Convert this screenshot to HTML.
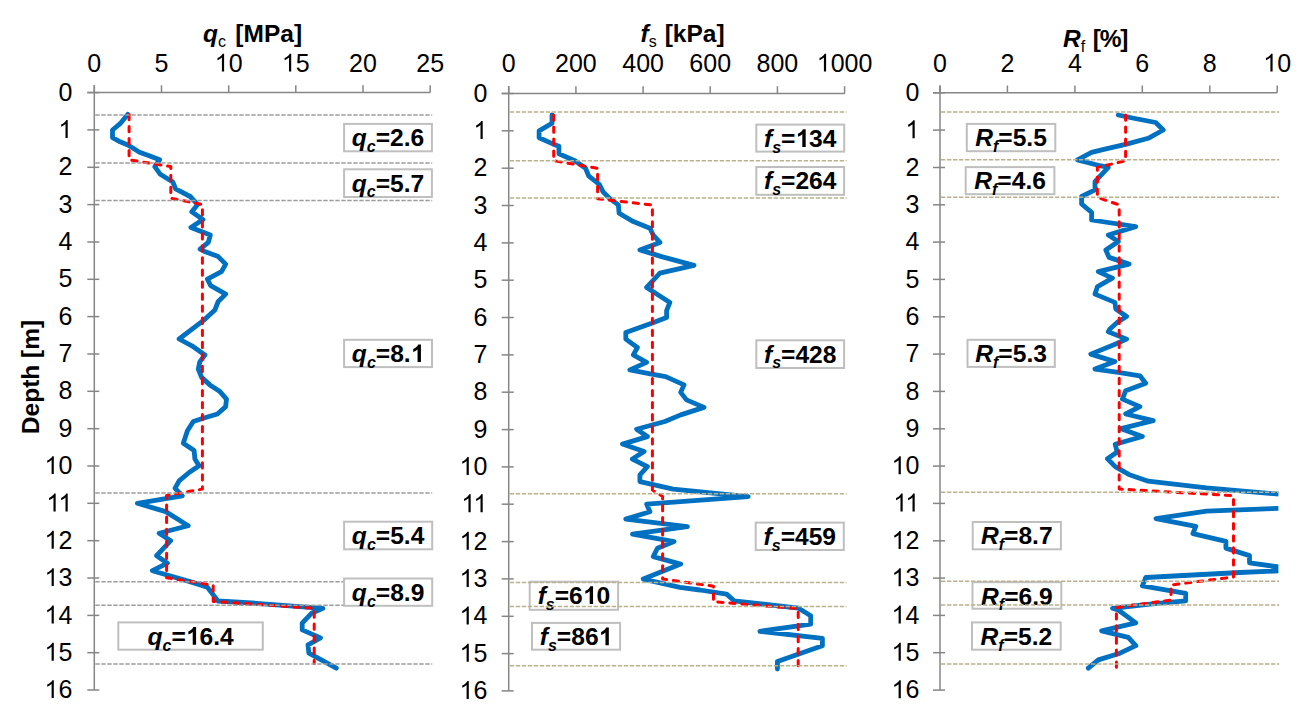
<!DOCTYPE html>
<html><head><meta charset="utf-8"><style>
html,body{margin:0;padding:0;background:#fff;}
body{width:1309px;height:721px;overflow:hidden;}
svg{display:block;}
</style></head><body>
<svg width="1309" height="721" viewBox="0 0 1309 721" font-family='"Liberation Sans", sans-serif'>
<defs><clipPath id="c3"><rect x="930" y="80" width="348.4" height="620"/></clipPath></defs>
<rect width="1309" height="721" fill="#fff"/>
<text x="203" y="41.7" font-size="24.5" font-weight="bold"><tspan font-style="italic">q</tspan><tspan font-size="16" font-weight="normal" dy="5">c</tspan><tspan dy="-5" dx="2.6"> [MPa]</tspan></text>
<text x="640.5" y="41.6" font-size="24.5" font-weight="bold"><tspan font-style="italic">f</tspan><tspan font-size="16" font-weight="normal" dy="5">s</tspan><tspan dy="-5" dx="1.2"> [kPa]</tspan></text>
<text x="1063" y="47" font-size="24.5" font-weight="bold"><tspan font-style="italic">R</tspan><tspan font-size="16" font-weight="normal" dy="5">f</tspan><tspan dy="-5" dx="2" letter-spacing="-1.2"> [%]</tspan></text>
<text transform="translate(39,377) rotate(-90)" text-anchor="middle" font-size="24.5" font-weight="bold">Depth [m]</text>
<line x1="87.3" y1="92.6" x2="430.2" y2="92.6" stroke="#868686" stroke-width="1.5"/>
<line x1="94.3" y1="85.3" x2="94.3" y2="690.0" stroke="#868686" stroke-width="1.5"/>
<line x1="94.3" y1="85.3" x2="94.3" y2="92.6" stroke="#868686" stroke-width="1.5"/>
<text x="94.3" y="71.6" text-anchor="middle" font-size="25">0</text>
<line x1="161.5" y1="85.3" x2="161.5" y2="92.6" stroke="#868686" stroke-width="1.5"/>
<text x="161.5" y="71.6" text-anchor="middle" font-size="25">5</text>
<line x1="228.7" y1="85.3" x2="228.7" y2="92.6" stroke="#868686" stroke-width="1.5"/>
<text x="228.7" y="71.6" text-anchor="middle" font-size="25"> 0</text>
<line x1="295.8" y1="85.3" x2="295.8" y2="92.6" stroke="#868686" stroke-width="1.5"/>
<text x="295.8" y="71.6" text-anchor="middle" font-size="25"> 5</text>
<line x1="363.0" y1="85.3" x2="363.0" y2="92.6" stroke="#868686" stroke-width="1.5"/>
<text x="363.0" y="71.6" text-anchor="middle" font-size="25">20</text>
<line x1="430.2" y1="85.3" x2="430.2" y2="92.6" stroke="#868686" stroke-width="1.5"/>
<text x="430.2" y="71.6" text-anchor="middle" font-size="25">25</text>
<line x1="87.3" y1="92.6" x2="99.3" y2="92.6" stroke="#868686" stroke-width="1.5"/>
<text x="72.3" y="100.7" text-anchor="end" font-size="25">0</text>
<line x1="87.3" y1="129.9" x2="99.3" y2="129.9" stroke="#868686" stroke-width="1.5"/>
<text x="72.3" y="138.0" text-anchor="end" font-size="25"> </text>
<line x1="87.3" y1="167.3" x2="99.3" y2="167.3" stroke="#868686" stroke-width="1.5"/>
<text x="72.3" y="175.4" text-anchor="end" font-size="25">2</text>
<line x1="87.3" y1="204.6" x2="99.3" y2="204.6" stroke="#868686" stroke-width="1.5"/>
<text x="72.3" y="212.7" text-anchor="end" font-size="25">3</text>
<line x1="87.3" y1="242.0" x2="99.3" y2="242.0" stroke="#868686" stroke-width="1.5"/>
<text x="72.3" y="250.1" text-anchor="end" font-size="25">4</text>
<line x1="87.3" y1="279.3" x2="99.3" y2="279.3" stroke="#868686" stroke-width="1.5"/>
<text x="72.3" y="287.4" text-anchor="end" font-size="25">5</text>
<line x1="87.3" y1="316.6" x2="99.3" y2="316.6" stroke="#868686" stroke-width="1.5"/>
<text x="72.3" y="324.7" text-anchor="end" font-size="25">6</text>
<line x1="87.3" y1="354.0" x2="99.3" y2="354.0" stroke="#868686" stroke-width="1.5"/>
<text x="72.3" y="362.1" text-anchor="end" font-size="25">7</text>
<line x1="87.3" y1="391.3" x2="99.3" y2="391.3" stroke="#868686" stroke-width="1.5"/>
<text x="72.3" y="399.4" text-anchor="end" font-size="25">8</text>
<line x1="87.3" y1="428.7" x2="99.3" y2="428.7" stroke="#868686" stroke-width="1.5"/>
<text x="72.3" y="436.8" text-anchor="end" font-size="25">9</text>
<line x1="87.3" y1="466.0" x2="99.3" y2="466.0" stroke="#868686" stroke-width="1.5"/>
<text x="72.3" y="474.1" text-anchor="end" font-size="25"> 0</text>
<line x1="87.3" y1="503.3" x2="99.3" y2="503.3" stroke="#868686" stroke-width="1.5"/>
<text x="72.3" y="511.4" text-anchor="end" font-size="25">  </text>
<line x1="87.3" y1="540.7" x2="99.3" y2="540.7" stroke="#868686" stroke-width="1.5"/>
<text x="72.3" y="548.8" text-anchor="end" font-size="25"> 2</text>
<line x1="87.3" y1="578.0" x2="99.3" y2="578.0" stroke="#868686" stroke-width="1.5"/>
<text x="72.3" y="586.1" text-anchor="end" font-size="25"> 3</text>
<line x1="87.3" y1="615.4" x2="99.3" y2="615.4" stroke="#868686" stroke-width="1.5"/>
<text x="72.3" y="623.5" text-anchor="end" font-size="25"> 4</text>
<line x1="87.3" y1="652.7" x2="99.3" y2="652.7" stroke="#868686" stroke-width="1.5"/>
<text x="72.3" y="660.8" text-anchor="end" font-size="25"> 5</text>
<line x1="87.3" y1="690.0" x2="99.3" y2="690.0" stroke="#868686" stroke-width="1.5"/>
<text x="72.3" y="698.1" text-anchor="end" font-size="25"> 6</text>
<line x1="501.7" y1="93.5" x2="844.6" y2="93.5" stroke="#868686" stroke-width="1.5"/>
<line x1="508.7" y1="86.2" x2="508.7" y2="690.9" stroke="#868686" stroke-width="1.5"/>
<line x1="508.7" y1="86.2" x2="508.7" y2="93.5" stroke="#868686" stroke-width="1.5"/>
<text x="508.7" y="71.6" text-anchor="middle" font-size="25">0</text>
<line x1="575.9" y1="86.2" x2="575.9" y2="93.5" stroke="#868686" stroke-width="1.5"/>
<text x="575.9" y="71.6" text-anchor="middle" font-size="25">200</text>
<line x1="643.1" y1="86.2" x2="643.1" y2="93.5" stroke="#868686" stroke-width="1.5"/>
<text x="643.1" y="71.6" text-anchor="middle" font-size="25">400</text>
<line x1="710.2" y1="86.2" x2="710.2" y2="93.5" stroke="#868686" stroke-width="1.5"/>
<text x="710.2" y="71.6" text-anchor="middle" font-size="25">600</text>
<line x1="777.4" y1="86.2" x2="777.4" y2="93.5" stroke="#868686" stroke-width="1.5"/>
<text x="777.4" y="71.6" text-anchor="middle" font-size="25">800</text>
<line x1="844.6" y1="86.2" x2="844.6" y2="93.5" stroke="#868686" stroke-width="1.5"/>
<text x="844.6" y="71.6" text-anchor="middle" font-size="25"> 000</text>
<line x1="501.7" y1="93.5" x2="513.7" y2="93.5" stroke="#868686" stroke-width="1.5"/>
<text x="487.3" y="101.6" text-anchor="end" font-size="25">0</text>
<line x1="501.7" y1="130.8" x2="513.7" y2="130.8" stroke="#868686" stroke-width="1.5"/>
<text x="487.3" y="138.9" text-anchor="end" font-size="25"> </text>
<line x1="501.7" y1="168.2" x2="513.7" y2="168.2" stroke="#868686" stroke-width="1.5"/>
<text x="487.3" y="176.3" text-anchor="end" font-size="25">2</text>
<line x1="501.7" y1="205.5" x2="513.7" y2="205.5" stroke="#868686" stroke-width="1.5"/>
<text x="487.3" y="213.6" text-anchor="end" font-size="25">3</text>
<line x1="501.7" y1="242.9" x2="513.7" y2="242.9" stroke="#868686" stroke-width="1.5"/>
<text x="487.3" y="251.0" text-anchor="end" font-size="25">4</text>
<line x1="501.7" y1="280.2" x2="513.7" y2="280.2" stroke="#868686" stroke-width="1.5"/>
<text x="487.3" y="288.3" text-anchor="end" font-size="25">5</text>
<line x1="501.7" y1="317.5" x2="513.7" y2="317.5" stroke="#868686" stroke-width="1.5"/>
<text x="487.3" y="325.6" text-anchor="end" font-size="25">6</text>
<line x1="501.7" y1="354.9" x2="513.7" y2="354.9" stroke="#868686" stroke-width="1.5"/>
<text x="487.3" y="363.0" text-anchor="end" font-size="25">7</text>
<line x1="501.7" y1="392.2" x2="513.7" y2="392.2" stroke="#868686" stroke-width="1.5"/>
<text x="487.3" y="400.3" text-anchor="end" font-size="25">8</text>
<line x1="501.7" y1="429.6" x2="513.7" y2="429.6" stroke="#868686" stroke-width="1.5"/>
<text x="487.3" y="437.7" text-anchor="end" font-size="25">9</text>
<line x1="501.7" y1="466.9" x2="513.7" y2="466.9" stroke="#868686" stroke-width="1.5"/>
<text x="487.3" y="475.0" text-anchor="end" font-size="25"> 0</text>
<line x1="501.7" y1="504.2" x2="513.7" y2="504.2" stroke="#868686" stroke-width="1.5"/>
<text x="487.3" y="512.3" text-anchor="end" font-size="25">  </text>
<line x1="501.7" y1="541.6" x2="513.7" y2="541.6" stroke="#868686" stroke-width="1.5"/>
<text x="487.3" y="549.7" text-anchor="end" font-size="25"> 2</text>
<line x1="501.7" y1="578.9" x2="513.7" y2="578.9" stroke="#868686" stroke-width="1.5"/>
<text x="487.3" y="587.0" text-anchor="end" font-size="25"> 3</text>
<line x1="501.7" y1="616.3" x2="513.7" y2="616.3" stroke="#868686" stroke-width="1.5"/>
<text x="487.3" y="624.4" text-anchor="end" font-size="25"> 4</text>
<line x1="501.7" y1="653.6" x2="513.7" y2="653.6" stroke="#868686" stroke-width="1.5"/>
<text x="487.3" y="661.7" text-anchor="end" font-size="25"> 5</text>
<line x1="501.7" y1="690.9" x2="513.7" y2="690.9" stroke="#868686" stroke-width="1.5"/>
<text x="487.3" y="699.0" text-anchor="end" font-size="25"> 6</text>
<line x1="933.0" y1="92.8" x2="1277.2" y2="92.8" stroke="#868686" stroke-width="1.5"/>
<line x1="940.0" y1="85.5" x2="940.0" y2="690.1" stroke="#868686" stroke-width="1.5"/>
<line x1="940.0" y1="85.5" x2="940.0" y2="92.8" stroke="#868686" stroke-width="1.5"/>
<text x="940.0" y="71.6" text-anchor="middle" font-size="25">0</text>
<line x1="1007.4" y1="85.5" x2="1007.4" y2="92.8" stroke="#868686" stroke-width="1.5"/>
<text x="1007.4" y="71.6" text-anchor="middle" font-size="25">2</text>
<line x1="1074.9" y1="85.5" x2="1074.9" y2="92.8" stroke="#868686" stroke-width="1.5"/>
<text x="1074.9" y="71.6" text-anchor="middle" font-size="25">4</text>
<line x1="1142.3" y1="85.5" x2="1142.3" y2="92.8" stroke="#868686" stroke-width="1.5"/>
<text x="1142.3" y="71.6" text-anchor="middle" font-size="25">6</text>
<line x1="1209.8" y1="85.5" x2="1209.8" y2="92.8" stroke="#868686" stroke-width="1.5"/>
<text x="1209.8" y="71.6" text-anchor="middle" font-size="25">8</text>
<line x1="1277.2" y1="85.5" x2="1277.2" y2="92.8" stroke="#868686" stroke-width="1.5"/>
<text x="1277.2" y="71.6" text-anchor="middle" font-size="25"> 0</text>
<line x1="933.0" y1="92.8" x2="945.0" y2="92.8" stroke="#868686" stroke-width="1.5"/>
<text x="919.3" y="100.9" text-anchor="end" font-size="25">0</text>
<line x1="933.0" y1="130.1" x2="945.0" y2="130.1" stroke="#868686" stroke-width="1.5"/>
<text x="919.3" y="138.2" text-anchor="end" font-size="25"> </text>
<line x1="933.0" y1="167.5" x2="945.0" y2="167.5" stroke="#868686" stroke-width="1.5"/>
<text x="919.3" y="175.6" text-anchor="end" font-size="25">2</text>
<line x1="933.0" y1="204.8" x2="945.0" y2="204.8" stroke="#868686" stroke-width="1.5"/>
<text x="919.3" y="212.9" text-anchor="end" font-size="25">3</text>
<line x1="933.0" y1="242.1" x2="945.0" y2="242.1" stroke="#868686" stroke-width="1.5"/>
<text x="919.3" y="250.2" text-anchor="end" font-size="25">4</text>
<line x1="933.0" y1="279.4" x2="945.0" y2="279.4" stroke="#868686" stroke-width="1.5"/>
<text x="919.3" y="287.6" text-anchor="end" font-size="25">5</text>
<line x1="933.0" y1="316.8" x2="945.0" y2="316.8" stroke="#868686" stroke-width="1.5"/>
<text x="919.3" y="324.9" text-anchor="end" font-size="25">6</text>
<line x1="933.0" y1="354.1" x2="945.0" y2="354.1" stroke="#868686" stroke-width="1.5"/>
<text x="919.3" y="362.2" text-anchor="end" font-size="25">7</text>
<line x1="933.0" y1="391.4" x2="945.0" y2="391.4" stroke="#868686" stroke-width="1.5"/>
<text x="919.3" y="399.5" text-anchor="end" font-size="25">8</text>
<line x1="933.0" y1="428.8" x2="945.0" y2="428.8" stroke="#868686" stroke-width="1.5"/>
<text x="919.3" y="436.9" text-anchor="end" font-size="25">9</text>
<line x1="933.0" y1="466.1" x2="945.0" y2="466.1" stroke="#868686" stroke-width="1.5"/>
<text x="919.3" y="474.2" text-anchor="end" font-size="25"> 0</text>
<line x1="933.0" y1="503.4" x2="945.0" y2="503.4" stroke="#868686" stroke-width="1.5"/>
<text x="919.3" y="511.5" text-anchor="end" font-size="25">  </text>
<line x1="933.0" y1="540.8" x2="945.0" y2="540.8" stroke="#868686" stroke-width="1.5"/>
<text x="919.3" y="548.9" text-anchor="end" font-size="25"> 2</text>
<line x1="933.0" y1="578.1" x2="945.0" y2="578.1" stroke="#868686" stroke-width="1.5"/>
<text x="919.3" y="586.2" text-anchor="end" font-size="25"> 3</text>
<line x1="933.0" y1="615.4" x2="945.0" y2="615.4" stroke="#868686" stroke-width="1.5"/>
<text x="919.3" y="623.5" text-anchor="end" font-size="25"> 4</text>
<line x1="933.0" y1="652.7" x2="945.0" y2="652.7" stroke="#868686" stroke-width="1.5"/>
<text x="919.3" y="660.8" text-anchor="end" font-size="25"> 5</text>
<line x1="933.0" y1="690.1" x2="945.0" y2="690.1" stroke="#868686" stroke-width="1.5"/>
<text x="919.3" y="698.2" text-anchor="end" font-size="25"> 6</text>
<polyline points="127.7,114.4 120.1,123.7 112.5,130.0 112.5,137.6 120.1,141.8 128.4,145.2 139.5,152.2 148.5,155.6 159.6,159.8 154.8,166.7 160.3,174.3 172.8,182.0 175.6,188.9 190.2,196.5 197.7,204.6 191.8,211.8 203.0,219.6 190.9,227.4 210.3,235.1 208.3,242.4 200.1,249.2 204.0,251.2 218.2,256.6 225.7,264.1 221.5,271.6 207.4,279.1 210.7,285.7 225.7,294.1 218.2,301.5 214.9,309.9 203.2,320.7 179.1,339.0 193.3,346.7 204.9,355.0 199.9,361.6 198.3,369.1 201.6,377.4 209.9,384.9 219.9,391.6 226.5,399.1 225.7,406.6 217.4,414.0 203.2,418.2 193.3,421.5 187.4,430.7 183.3,443.2 194.1,450.6 194.9,459.0 199.1,465.8 189.1,472.5 179.1,480.8 175.0,488.3 178.3,491.6 182.3,495.8 137.4,503.3 165.7,511.6 188.2,525.7 159.1,533.2 170.7,540.7 156.6,555.7 167.4,563.2 152.4,570.7 189.9,581.6 207.4,587.3 218.0,601.0 256.5,603.3 323.0,608.3 311.4,613.3 302.2,623.2 302.2,629.9 320.5,637.9 308.0,644.9 308.9,653.2 336.3,668.2" fill="none" stroke="#0070c0" stroke-width="4.8" stroke-linejoin="round" stroke-linecap="round"/>
<polyline points="129.1,114.4 129.1,159.8 170.8,166.5 170.8,198.2 202.4,204.6 202.4,489.1 166.6,495.5 166.6,577.8 213.2,585.2 213.2,601.4 314.2,608.3 314.2,663.5" fill="none" stroke="#ff0000" stroke-width="3" stroke-linejoin="round" stroke-linecap="round" stroke-dasharray="5.3 6.75"/>
<polyline points="552.0,114.9 552.0,123.3 539.1,130.9 539.1,137.8 552.8,143.9 558.9,146.2 558.9,153.8 574.9,160.7 585.6,168.3 588.6,175.9 599.3,184.3 603.1,191.9 610.0,198.8 618.4,204.9 619.1,213.3 633.3,221.6 649.9,228.3 653.2,235.0 659.9,242.4 639.9,249.9 661.6,256.6 694.0,265.4 659.9,273.2 646.6,287.4 669.9,302.4 666.6,310.7 666.6,317.5 651.6,323.3 625.8,332.5 625.8,339.1 637.4,347.5 633.3,354.9 646.6,362.4 629.9,369.9 651.6,374.1 665.7,376.6 684.0,384.9 680.7,392.4 686.5,399.9 704.0,407.4 680.7,414.9 664.9,421.5 636.6,429.2 647.4,436.6 622.5,444.1 644.1,451.6 632.4,459.1 647.4,466.6 639.9,474.9 639.9,481.6 673.2,489.1 748.2,496.6 646.6,504.1 649.9,511.7 625.8,519.1 687.4,526.6 632.5,534.1 674.1,541.6 657.4,548.3 653.3,556.6 680.7,564.1 643.3,579.1 679.9,587.4 700.0,590.0 726.6,594.1 734.1,600.8 798.6,608.2 810.7,615.8 810.7,624.1 759.9,631.3 822.4,638.3 822.4,645.8 777.4,661.6 777.4,669.1" fill="none" stroke="#0070c0" stroke-width="4.8" stroke-linejoin="round" stroke-linecap="round"/>
<polyline points="553.7,114.9 553.7,160.7 597.6,168.3 597.6,198.8 652.4,205.0 652.4,489.9 662.6,496.6 662.6,579.0 713.5,586.2 713.5,601.6 798.2,608.6 798.2,669.1" fill="none" stroke="#ff0000" stroke-width="3" stroke-linejoin="round" stroke-linecap="round" stroke-dasharray="5.3 6.75"/>
<polyline points="1118.3,115.0 1129.9,117.5 1155.7,122.5 1163.2,130.0 1148.2,138.3 1126.6,144.1 1104.9,149.1 1091.6,152.4 1077.5,159.9 1100.0,165.7 1108.3,167.4 1095.0,181.6 1095.0,189.9 1081.6,196.5 1081.6,204.0 1091.6,212.3 1091.6,220.0 1135.7,226.6 1108.3,235.0 1118.3,241.6 1105.8,250.0 1109.1,257.4 1129.1,264.1 1098.3,271.6 1112.4,278.2 1097.5,286.6 1095.0,294.1 1114.9,302.4 1115.8,309.0 1126.6,316.5 1117.4,322.3 1109.9,329.0 1108.3,331.7 1126.6,339.1 1113.3,345.0 1090.8,354.1 1114.9,361.6 1095.0,369.1 1118.3,372.4 1139.9,375.8 1145.7,383.2 1125.7,390.7 1122.4,399.1 1139.9,406.6 1125.7,414.0 1153.2,420.7 1121.1,428.7 1142.4,436.5 1115.2,444.3 1117.2,452.0 1107.5,458.8 1115.2,466.6 1128.8,474.4 1148.2,481.2 1206.5,487.9 1300.0,496.0 1300.0,507.5 1206.5,511.2 1156.0,518.6 1195.8,526.4 1192.9,533.6 1225.9,541.3 1225.9,548.1 1249.5,555.6 1249.5,562.8 1300.0,570.0 1240.0,572.5 1145.8,577.5 1142.4,585.8 1185.7,593.3 1185.7,600.8 1149.9,604.1 1112.5,608.3 1118.3,610.0 1135.8,622.9 1101.6,630.8 1128.3,637.4 1135.8,645.7 1120.0,653.2 1098.3,659.9 1088.3,668.2" fill="none" stroke="#0070c0" stroke-width="4.8" stroke-linejoin="round" stroke-linecap="round" clip-path="url(#c3)"/>
<polyline points="1125.6,115.0 1125.6,160.8 1097.4,167.4 1097.4,197.4 1119.2,204.9 1119.2,489.0 1233.5,495.7 1233.5,577.0 1171.0,585.0 1171.0,600.0 1116.4,607.5 1116.4,668.2" fill="none" stroke="#ff0000" stroke-width="3" stroke-linejoin="round" stroke-linecap="round" stroke-dasharray="5.3 6.75"/>
<line x1="95.3" y1="115.0" x2="432.2" y2="115.0" stroke="#9d9d9d" stroke-width="1.5" stroke-dasharray="4.4 1.6"/>
<line x1="95.3" y1="163.0" x2="432.2" y2="163.0" stroke="#9d9d9d" stroke-width="1.5" stroke-dasharray="4.4 1.6"/>
<line x1="95.3" y1="200.4" x2="432.2" y2="200.4" stroke="#9d9d9d" stroke-width="1.5" stroke-dasharray="4.4 1.6"/>
<line x1="95.3" y1="492.9" x2="432.2" y2="492.9" stroke="#9d9d9d" stroke-width="1.5" stroke-dasharray="4.4 1.6"/>
<line x1="95.3" y1="581.8" x2="432.2" y2="581.8" stroke="#9d9d9d" stroke-width="1.5" stroke-dasharray="4.4 1.6"/>
<line x1="95.3" y1="605.2" x2="432.2" y2="605.2" stroke="#9d9d9d" stroke-width="1.5" stroke-dasharray="4.4 1.6"/>
<line x1="95.3" y1="664.0" x2="432.2" y2="664.0" stroke="#9d9d9d" stroke-width="1.5" stroke-dasharray="4.4 1.6"/>
<rect x="344.1" y="123.9" width="87.8" height="27.4" fill="#ffffff" stroke="#bfbfbf" stroke-width="2"/>
<text x="388.0" y="146.2" text-anchor="middle" font-size="24.6" font-weight="bold"><tspan font-style="italic">q</tspan><tspan font-style="italic" font-size="16" dy="5.8">c</tspan><tspan dy="-5.8">=2.6</tspan></text>
<rect x="344.1" y="169.3" width="87.8" height="27.7" fill="#ffffff" stroke="#bfbfbf" stroke-width="2"/>
<text x="388.0" y="191.6" text-anchor="middle" font-size="24.6" font-weight="bold"><tspan font-style="italic">q</tspan><tspan font-style="italic" font-size="16" dy="5.8">c</tspan><tspan dy="-5.8">=5.7</tspan></text>
<rect x="344.1" y="339.8" width="87.9" height="27.3" fill="#ffffff" stroke="#bfbfbf" stroke-width="2"/>
<text x="388.1" y="362.1" text-anchor="middle" font-size="24.6" font-weight="bold"><tspan font-style="italic">q</tspan><tspan font-style="italic" font-size="16" dy="5.8">c</tspan><tspan dy="-5.8">=8. </tspan></text>
<rect x="344.1" y="521.7" width="88.1" height="27.6" fill="#ffffff" stroke="#bfbfbf" stroke-width="2"/>
<text x="388.1" y="544.0" text-anchor="middle" font-size="24.6" font-weight="bold"><tspan font-style="italic">q</tspan><tspan font-style="italic" font-size="16" dy="5.8">c</tspan><tspan dy="-5.8">=5.4</tspan></text>
<rect x="344.1" y="578.5" width="88.1" height="27.3" fill="#ffffff" stroke="#bfbfbf" stroke-width="2"/>
<text x="388.1" y="600.8" text-anchor="middle" font-size="24.6" font-weight="bold"><tspan font-style="italic">q</tspan><tspan font-style="italic" font-size="16" dy="5.8">c</tspan><tspan dy="-5.8">=8.9</tspan></text>
<rect x="118.3" y="622.4" width="144.5" height="27.3" fill="#ffffff" stroke="#bfbfbf" stroke-width="2"/>
<text x="190.6" y="644.7" text-anchor="middle" font-size="24.6" font-weight="bold"><tspan font-style="italic">q</tspan><tspan font-style="italic" font-size="16" dy="5.8">c</tspan><tspan dy="-5.8">= 6.4</tspan></text>
<rect x="756.3" y="124.6" width="87.9" height="27.0" fill="#ffffff" stroke="#bfbfbf" stroke-width="2"/>
<text x="800.2" y="146.9" text-anchor="middle" font-size="24.6" font-weight="bold"><tspan font-style="italic">f</tspan><tspan font-style="italic" font-size="16" dy="5.8">s</tspan><tspan dy="-5.8">= 34</tspan></text>
<rect x="756.3" y="167.0" width="87.8" height="27.8" fill="#ffffff" stroke="#bfbfbf" stroke-width="2"/>
<text x="800.2" y="189.3" text-anchor="middle" font-size="24.6" font-weight="bold"><tspan font-style="italic">f</tspan><tspan font-style="italic" font-size="16" dy="5.8">s</tspan><tspan dy="-5.8">=264</tspan></text>
<rect x="756.3" y="340.3" width="87.8" height="27.7" fill="#ffffff" stroke="#bfbfbf" stroke-width="2"/>
<text x="800.2" y="362.6" text-anchor="middle" font-size="24.6" font-weight="bold"><tspan font-style="italic">f</tspan><tspan font-style="italic" font-size="16" dy="5.8">s</tspan><tspan dy="-5.8">=428</tspan></text>
<rect x="755.7" y="522.6" width="88.1" height="27.4" fill="#ffffff" stroke="#bfbfbf" stroke-width="2"/>
<text x="799.8" y="544.9" text-anchor="middle" font-size="24.6" font-weight="bold"><tspan font-style="italic">f</tspan><tspan font-style="italic" font-size="16" dy="5.8">s</tspan><tspan dy="-5.8">=459</tspan></text>
<rect x="529.7" y="581.7" width="88.4" height="28.1" fill="#ffffff" stroke="#bfbfbf" stroke-width="2"/>
<text x="573.9" y="604.0" text-anchor="middle" font-size="24.6" font-weight="bold"><tspan font-style="italic">f</tspan><tspan font-style="italic" font-size="16" dy="5.8">s</tspan><tspan dy="-5.8">=6 0</tspan></text>
<rect x="532.0" y="622.9" width="88.1" height="26.8" fill="#ffffff" stroke="#bfbfbf" stroke-width="2"/>
<text x="576.0" y="645.2" text-anchor="middle" font-size="24.6" font-weight="bold"><tspan font-style="italic">f</tspan><tspan font-style="italic" font-size="16" dy="5.8">s</tspan><tspan dy="-5.8">=86 </tspan></text>
<rect x="966.8" y="123.9" width="88.5" height="27.3" fill="#ffffff" stroke="#bfbfbf" stroke-width="2"/>
<text x="1011.0" y="146.2" text-anchor="middle" font-size="24.6" font-weight="bold"><tspan font-style="italic">R</tspan><tspan font-style="italic" font-size="16" dy="5.8">f</tspan><tspan dy="-5.8">=5.5</tspan></text>
<rect x="965.7" y="167.1" width="88.7" height="27.1" fill="#ffffff" stroke="#bfbfbf" stroke-width="2"/>
<text x="1010.1" y="189.4" text-anchor="middle" font-size="24.6" font-weight="bold"><tspan font-style="italic">R</tspan><tspan font-style="italic" font-size="16" dy="5.8">f</tspan><tspan dy="-5.8">=4.6</tspan></text>
<rect x="967.5" y="339.8" width="87.3" height="27.1" fill="#ffffff" stroke="#bfbfbf" stroke-width="2"/>
<text x="1011.1" y="362.1" text-anchor="middle" font-size="24.6" font-weight="bold"><tspan font-style="italic">R</tspan><tspan font-style="italic" font-size="16" dy="5.8">f</tspan><tspan dy="-5.8">=5.3</tspan></text>
<rect x="972.7" y="522.0" width="88.2" height="27.3" fill="#ffffff" stroke="#bfbfbf" stroke-width="2"/>
<text x="1016.8" y="544.3" text-anchor="middle" font-size="24.6" font-weight="bold"><tspan font-style="italic">R</tspan><tspan font-style="italic" font-size="16" dy="5.8">f</tspan><tspan dy="-5.8">=8.7</tspan></text>
<rect x="972.5" y="582.2" width="88.8" height="26.5" fill="#ffffff" stroke="#bfbfbf" stroke-width="2"/>
<text x="1016.9" y="604.5" text-anchor="middle" font-size="24.6" font-weight="bold"><tspan font-style="italic">R</tspan><tspan font-style="italic" font-size="16" dy="5.8">f</tspan><tspan dy="-5.8">=6.9</tspan></text>
<rect x="972.0" y="622.4" width="88.7" height="27.3" fill="#ffffff" stroke="#bfbfbf" stroke-width="2"/>
<text x="1016.4" y="644.7" text-anchor="middle" font-size="24.6" font-weight="bold"><tspan font-style="italic">R</tspan><tspan font-style="italic" font-size="16" dy="5.8">f</tspan><tspan dy="-5.8">=5.2</tspan></text>
<line x1="509.7" y1="112.0" x2="846.6" y2="112.0" stroke="#bab28c" stroke-width="1.5" stroke-dasharray="4.4 1.6"/>
<line x1="509.7" y1="160.7" x2="846.6" y2="160.7" stroke="#bab28c" stroke-width="1.5" stroke-dasharray="4.4 1.6"/>
<line x1="509.7" y1="198.0" x2="846.6" y2="198.0" stroke="#bab28c" stroke-width="1.5" stroke-dasharray="4.4 1.6"/>
<line x1="509.7" y1="493.7" x2="846.6" y2="493.7" stroke="#bab28c" stroke-width="1.5" stroke-dasharray="4.4 1.6"/>
<line x1="509.7" y1="582.6" x2="846.6" y2="582.6" stroke="#bab28c" stroke-width="1.5" stroke-dasharray="4.4 1.6"/>
<line x1="509.7" y1="606.4" x2="846.6" y2="606.4" stroke="#bab28c" stroke-width="1.5" stroke-dasharray="4.4 1.6"/>
<line x1="509.7" y1="665.7" x2="846.6" y2="665.7" stroke="#bab28c" stroke-width="1.5" stroke-dasharray="4.4 1.6"/>
<line x1="941.0" y1="112.1" x2="1279.2" y2="112.1" stroke="#bab28c" stroke-width="1.5" stroke-dasharray="4.4 1.6"/>
<line x1="941.0" y1="159.7" x2="1279.2" y2="159.7" stroke="#bab28c" stroke-width="1.5" stroke-dasharray="4.4 1.6"/>
<line x1="941.0" y1="197.2" x2="1279.2" y2="197.2" stroke="#bab28c" stroke-width="1.5" stroke-dasharray="4.4 1.6"/>
<line x1="941.0" y1="492.3" x2="1279.2" y2="492.3" stroke="#bab28c" stroke-width="1.5" stroke-dasharray="4.4 1.6"/>
<line x1="941.0" y1="581.2" x2="1279.2" y2="581.2" stroke="#bab28c" stroke-width="1.5" stroke-dasharray="4.4 1.6"/>
<line x1="941.0" y1="605.0" x2="1279.2" y2="605.0" stroke="#bab28c" stroke-width="1.5" stroke-dasharray="4.4 1.6"/>
<line x1="941.0" y1="664.1" x2="1279.2" y2="664.1" stroke="#bab28c" stroke-width="1.5" stroke-dasharray="4.4 1.6"/>
<g fill="#000"><path d="M763 0L583 0L583 1147C540 1106 483 1065 413 1024C343 983 280 952 223 931L223 1105C324 1152 412 1210 487 1277C562 1344 615 1409 646 1472L763 1472Z" transform="translate(214.79,71.60) scale(0.01221,-0.01221)"/><path d="M763 0L583 0L583 1147C540 1106 483 1065 413 1024C343 983 280 952 223 931L223 1105C324 1152 412 1210 487 1277C562 1344 615 1409 646 1472L763 1472Z" transform="translate(281.89,71.60) scale(0.01221,-0.01221)"/><path d="M763 0L583 0L583 1147C540 1106 483 1065 413 1024C343 983 280 952 223 931L223 1105C324 1152 412 1210 487 1277C562 1344 615 1409 646 1472L763 1472Z" transform="translate(58.39,138.00) scale(0.01221,-0.01221)"/><path d="M763 0L583 0L583 1147C540 1106 483 1065 413 1024C343 983 280 952 223 931L223 1105C324 1152 412 1210 487 1277C562 1344 615 1409 646 1472L763 1472Z" transform="translate(44.49,474.10) scale(0.01221,-0.01221)"/><path d="M763 0L583 0L583 1147C540 1106 483 1065 413 1024C343 983 280 952 223 931L223 1105C324 1152 412 1210 487 1277C562 1344 615 1409 646 1472L763 1472Z" transform="translate(46.35,511.40) scale(0.01221,-0.01221)"/><path d="M763 0L583 0L583 1147C540 1106 483 1065 413 1024C343 983 280 952 223 931L223 1105C324 1152 412 1210 487 1277C562 1344 615 1409 646 1472L763 1472Z" transform="translate(58.39,511.40) scale(0.01221,-0.01221)"/><path d="M763 0L583 0L583 1147C540 1106 483 1065 413 1024C343 983 280 952 223 931L223 1105C324 1152 412 1210 487 1277C562 1344 615 1409 646 1472L763 1472Z" transform="translate(44.49,548.80) scale(0.01221,-0.01221)"/><path d="M763 0L583 0L583 1147C540 1106 483 1065 413 1024C343 983 280 952 223 931L223 1105C324 1152 412 1210 487 1277C562 1344 615 1409 646 1472L763 1472Z" transform="translate(44.49,586.10) scale(0.01221,-0.01221)"/><path d="M763 0L583 0L583 1147C540 1106 483 1065 413 1024C343 983 280 952 223 931L223 1105C324 1152 412 1210 487 1277C562 1344 615 1409 646 1472L763 1472Z" transform="translate(44.49,623.50) scale(0.01221,-0.01221)"/><path d="M763 0L583 0L583 1147C540 1106 483 1065 413 1024C343 983 280 952 223 931L223 1105C324 1152 412 1210 487 1277C562 1344 615 1409 646 1472L763 1472Z" transform="translate(44.49,660.80) scale(0.01221,-0.01221)"/><path d="M763 0L583 0L583 1147C540 1106 483 1065 413 1024C343 983 280 952 223 931L223 1105C324 1152 412 1210 487 1277C562 1344 615 1409 646 1472L763 1472Z" transform="translate(44.49,698.10) scale(0.01221,-0.01221)"/><path d="M763 0L583 0L583 1147C540 1106 483 1065 413 1024C343 983 280 952 223 931L223 1105C324 1152 412 1210 487 1277C562 1344 615 1409 646 1472L763 1472Z" transform="translate(816.79,71.60) scale(0.01221,-0.01221)"/><path d="M763 0L583 0L583 1147C540 1106 483 1065 413 1024C343 983 280 952 223 931L223 1105C324 1152 412 1210 487 1277C562 1344 615 1409 646 1472L763 1472Z" transform="translate(473.39,138.90) scale(0.01221,-0.01221)"/><path d="M763 0L583 0L583 1147C540 1106 483 1065 413 1024C343 983 280 952 223 931L223 1105C324 1152 412 1210 487 1277C562 1344 615 1409 646 1472L763 1472Z" transform="translate(459.49,475.00) scale(0.01221,-0.01221)"/><path d="M763 0L583 0L583 1147C540 1106 483 1065 413 1024C343 983 280 952 223 931L223 1105C324 1152 412 1210 487 1277C562 1344 615 1409 646 1472L763 1472Z" transform="translate(461.35,512.30) scale(0.01221,-0.01221)"/><path d="M763 0L583 0L583 1147C540 1106 483 1065 413 1024C343 983 280 952 223 931L223 1105C324 1152 412 1210 487 1277C562 1344 615 1409 646 1472L763 1472Z" transform="translate(473.39,512.30) scale(0.01221,-0.01221)"/><path d="M763 0L583 0L583 1147C540 1106 483 1065 413 1024C343 983 280 952 223 931L223 1105C324 1152 412 1210 487 1277C562 1344 615 1409 646 1472L763 1472Z" transform="translate(459.49,549.70) scale(0.01221,-0.01221)"/><path d="M763 0L583 0L583 1147C540 1106 483 1065 413 1024C343 983 280 952 223 931L223 1105C324 1152 412 1210 487 1277C562 1344 615 1409 646 1472L763 1472Z" transform="translate(459.49,587.00) scale(0.01221,-0.01221)"/><path d="M763 0L583 0L583 1147C540 1106 483 1065 413 1024C343 983 280 952 223 931L223 1105C324 1152 412 1210 487 1277C562 1344 615 1409 646 1472L763 1472Z" transform="translate(459.49,624.40) scale(0.01221,-0.01221)"/><path d="M763 0L583 0L583 1147C540 1106 483 1065 413 1024C343 983 280 952 223 931L223 1105C324 1152 412 1210 487 1277C562 1344 615 1409 646 1472L763 1472Z" transform="translate(459.49,661.70) scale(0.01221,-0.01221)"/><path d="M763 0L583 0L583 1147C540 1106 483 1065 413 1024C343 983 280 952 223 931L223 1105C324 1152 412 1210 487 1277C562 1344 615 1409 646 1472L763 1472Z" transform="translate(459.49,699.00) scale(0.01221,-0.01221)"/><path d="M763 0L583 0L583 1147C540 1106 483 1065 413 1024C343 983 280 952 223 931L223 1105C324 1152 412 1210 487 1277C562 1344 615 1409 646 1472L763 1472Z" transform="translate(1263.29,71.60) scale(0.01221,-0.01221)"/><path d="M763 0L583 0L583 1147C540 1106 483 1065 413 1024C343 983 280 952 223 931L223 1105C324 1152 412 1210 487 1277C562 1344 615 1409 646 1472L763 1472Z" transform="translate(905.39,138.20) scale(0.01221,-0.01221)"/><path d="M763 0L583 0L583 1147C540 1106 483 1065 413 1024C343 983 280 952 223 931L223 1105C324 1152 412 1210 487 1277C562 1344 615 1409 646 1472L763 1472Z" transform="translate(891.49,474.20) scale(0.01221,-0.01221)"/><path d="M763 0L583 0L583 1147C540 1106 483 1065 413 1024C343 983 280 952 223 931L223 1105C324 1152 412 1210 487 1277C562 1344 615 1409 646 1472L763 1472Z" transform="translate(893.35,511.50) scale(0.01221,-0.01221)"/><path d="M763 0L583 0L583 1147C540 1106 483 1065 413 1024C343 983 280 952 223 931L223 1105C324 1152 412 1210 487 1277C562 1344 615 1409 646 1472L763 1472Z" transform="translate(905.39,511.50) scale(0.01221,-0.01221)"/><path d="M763 0L583 0L583 1147C540 1106 483 1065 413 1024C343 983 280 952 223 931L223 1105C324 1152 412 1210 487 1277C562 1344 615 1409 646 1472L763 1472Z" transform="translate(891.49,548.90) scale(0.01221,-0.01221)"/><path d="M763 0L583 0L583 1147C540 1106 483 1065 413 1024C343 983 280 952 223 931L223 1105C324 1152 412 1210 487 1277C562 1344 615 1409 646 1472L763 1472Z" transform="translate(891.49,586.20) scale(0.01221,-0.01221)"/><path d="M763 0L583 0L583 1147C540 1106 483 1065 413 1024C343 983 280 952 223 931L223 1105C324 1152 412 1210 487 1277C562 1344 615 1409 646 1472L763 1472Z" transform="translate(891.49,623.50) scale(0.01221,-0.01221)"/><path d="M763 0L583 0L583 1147C540 1106 483 1065 413 1024C343 983 280 952 223 931L223 1105C324 1152 412 1210 487 1277C562 1344 615 1409 646 1472L763 1472Z" transform="translate(891.49,660.80) scale(0.01221,-0.01221)"/><path d="M763 0L583 0L583 1147C540 1106 483 1065 413 1024C343 983 280 952 223 931L223 1105C324 1152 412 1210 487 1277C562 1344 615 1409 646 1472L763 1472Z" transform="translate(891.49,698.20) scale(0.01221,-0.01221)"/><path d="M856 0L575 0L575 1059C472 963 351 892 212 846L212 1101C285 1125 365 1170 451 1237C537 1304 596 1382 628 1472L856 1472Z" transform="translate(410.65,362.10) scale(0.01201,-0.01201)"/><path d="M856 0L575 0L575 1059C472 963 351 892 212 846L212 1101C285 1125 365 1170 451 1237C537 1304 596 1382 628 1472L856 1472Z" transform="translate(185.81,644.70) scale(0.01201,-0.01201)"/><path d="M856 0L575 0L575 1059C472 963 351 892 212 846L212 1101C285 1125 365 1170 451 1237C537 1304 596 1382 628 1472L856 1472Z" transform="translate(795.41,146.90) scale(0.01201,-0.01201)"/><path d="M856 0L575 0L575 1059C472 963 351 892 212 846L212 1101C285 1125 365 1170 451 1237C537 1304 596 1382 628 1472L856 1472Z" transform="translate(582.78,604.00) scale(0.01201,-0.01201)"/><path d="M856 0L575 0L575 1059C472 963 351 892 212 846L212 1101C285 1125 365 1170 451 1237C537 1304 596 1382 628 1472L856 1472Z" transform="translate(598.55,645.20) scale(0.01201,-0.01201)"/></g></svg>
</body></html>
